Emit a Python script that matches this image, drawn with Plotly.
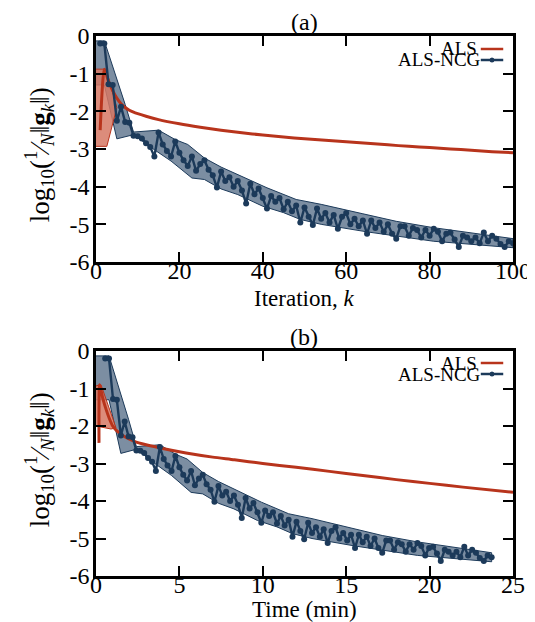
import plotly.graph_objects as go

# ---------------- data ----------------
# ALS (panel a: iteration)
als_k = [1, 2, 3, 4, 5, 6, 7, 8, 9, 10, 12, 15, 20, 25, 30, 35, 40, 45, 50, 55,
         60, 65, 70, 75, 80, 85, 90, 95, 100]
als_val = [-2.5, -0.88, -1.2, -1.45, -1.65, -1.8, -1.9, -1.97, -2.02, -2.06, -2.13,
           -2.22, -2.33, -2.42, -2.5, -2.57, -2.63, -2.68, -2.73, -2.77, -2.81, -2.85,
           -2.89, -2.93, -2.96, -3.0, -3.03, -3.07, -3.1]
als_band_k = [0, 2.4, 5, 2.6, 0]
als_band_val = [-0.88, -0.88, -1.9, -2.93, -2.93]

# ALS (panel b: time in minutes)
als_t = [0.18, 0.22, 0.4, 0.6, 0.8, 1.0, 1.3, 1.7, 2.3, 3.0, 4.0, 5.4, 7.0, 8.3, 10.0,
         12.0, 14.0, 16.0, 18.0, 20.0, 22.0, 25.0]
als_t_val = [-2.45, -0.9, -1.25, -1.55, -1.8, -2.0, -2.15, -2.28, -2.41, -2.5, -2.6,
             -2.72, -2.83, -2.9, -3.0, -3.1, -3.21, -3.32, -3.43, -3.53, -3.63, -3.77]
als_band_t = [0, 0.3, 1.2, 0.9, 0]
als_band_t_val = [-0.93, -0.9, -2.05, -2.08, -2.0]

# ALS-NCG
ncg_k = list(range(1, 101))
ncg_val = [-0.20, -0.20, -1.28, -1.30, -2.25, -1.88, -2.28, -2.30, -2.65, -2.66,
           -2.72, -2.85, -2.95, -3.20, -2.56, -2.88, -3.05, -3.20, -2.80, -3.10,
           -3.30, -3.45, -3.20, -3.58, -3.40, -3.30, -3.55, -3.70, -4.02, -3.60,
           -3.85, -3.75, -4.00, -3.85, -4.10, -4.45, -3.92, -4.20, -4.05, -4.30,
           -4.58, -4.25, -4.40, -4.30, -4.60, -4.40, -4.65, -4.50, -4.95, -4.55,
           -4.80, -5.02, -4.58, -4.85, -4.70, -4.95, -4.75, -5.12, -4.80, -4.70,
           -5.00, -4.85, -5.05, -4.90, -5.25, -4.90, -5.10, -4.95, -5.20, -5.00,
           -5.25, -5.38, -5.05, -5.05, -5.30, -5.10, -5.15, -5.35, -5.15, -5.30,
           -5.12, -5.20, -5.45, -5.25, -5.22, -5.40, -5.60, -5.30, -5.35, -5.45,
           -5.35, -5.50, -5.22, -5.45, -5.30, -5.38, -5.52, -5.60, -5.45, -5.50]
ncg_time = [0.55, 0.78, 1.02, 1.25, 1.49, 1.72, 1.95, 2.19, 2.42, 2.66,
            2.89, 3.12, 3.36, 3.59, 3.83, 4.06, 4.29, 4.53, 4.76, 5.00,
            5.23, 5.46, 5.70, 5.93, 6.17, 6.40, 6.63, 6.87, 7.10, 7.34,
            7.57, 7.80, 8.04, 8.27, 8.51, 8.74, 8.97, 9.21, 9.44, 9.68,
            9.91, 10.14, 10.38, 10.61, 10.85, 11.08, 11.31, 11.55, 11.78, 12.02,
            12.25, 12.48, 12.72, 12.95, 13.19, 13.42, 13.65, 13.89, 14.12, 14.36,
            14.59, 14.82, 15.06, 15.29, 15.53, 15.76, 15.99, 16.23, 16.46, 16.70,
            16.93, 17.16, 17.40, 17.63, 17.87, 18.10, 18.33, 18.57, 18.80, 19.04,
            19.27, 19.50, 19.74, 19.97, 20.21, 20.44, 20.67, 20.91, 21.14, 21.38,
            21.61, 21.84, 22.08, 22.31, 22.55, 22.78, 23.01, 23.25, 23.48, 23.72]
# envelope of ALS-NCG (iteration indices, 1-based)
band_up_k = [2, 7, 9, 15, 19, 22, 26, 30, 34, 41, 48, 54, 64, 72, 81, 90, 100]
band_up = [-0.13, -1.82, -2.55, -2.5, -2.75, -2.88, -3.24, -3.48, -3.68, -4.03,
           -4.34, -4.47, -4.72, -4.92, -5.09, -5.22, -5.38]
band_lo_k = [2, 5, 9, 14, 18, 23, 26, 30, 34, 40, 45, 49, 54, 65, 81, 100]
band_lo = [-1.3, -2.73, -2.62, -3.02, -3.32, -3.77, -3.81, -4.06, -4.21, -4.52,
           -4.69, -4.87, -5.0, -5.2, -5.45, -5.62]
band_start_up = -0.13
band_start_lo = -1.3

y_ticks = [0, -1, -2, -3, -4, -5, -6]
y_tick_labels = ["0", "-1", "-2", "-3", "-4", "-5", "-6"]
xa_ticks = [0, 20, 40, 60, 80, 100]
xb_ticks = [0, 5, 10, 15, 20, 25]

# ---------------- style ----------------
RED = "#b8341c"
RED_FILL = "rgba(214,120,100,0.85)"
BLUE = "#1c3a5a"
BLUE_FILL = "rgba(110,130,152,0.9)"
FONT = "Liberation Serif"
FS = 24

fig = go.Figure()


def add_panel(xa, ya, ncg_x, band_x_up, band_x_lo, als_x, als_y, als_bx, als_by):
    # ALS-NCG band
    bx = [0] + band_x_up + band_x_lo[::-1] + [0]
    by = [band_start_up] + band_up + band_lo[::-1] + [band_start_lo]
    fig.add_trace(go.Scatter(x=bx, y=by, fill="toself", fillcolor=BLUE_FILL,
                             mode="lines", line=dict(color=BLUE, width=1),
                             xaxis=xa, yaxis=ya, showlegend=False, hoverinfo="skip"))
    # ALS band
    fig.add_trace(go.Scatter(x=als_bx, y=als_by, fill="toself", fillcolor=RED_FILL,
                             mode="lines", line=dict(color=RED, width=1),
                             xaxis=xa, yaxis=ya, showlegend=False, hoverinfo="skip"))
    # ALS line
    fig.add_trace(go.Scatter(x=als_x, y=als_y, mode="lines",
                             line=dict(color=RED, width=3, shape="spline", smoothing=0.6),
                             xaxis=xa, yaxis=ya, showlegend=False))
    # ALS-NCG line
    fig.add_trace(go.Scatter(x=ncg_x, y=ncg_val, mode="lines+markers",
                             line=dict(color=BLUE, width=2.4),
                             marker=dict(color=BLUE, size=6),
                             xaxis=xa, yaxis=ya, showlegend=False))


add_panel("x", "y", ncg_k, band_up_k, band_lo_k, als_k, als_val, als_band_k, als_band_val)
add_panel("x2", "y2", ncg_time,
          [ncg_time[k - 1] for k in band_up_k], [ncg_time[k - 1] for k in band_lo_k],
          als_t, als_t_val, als_band_t, als_band_t_val)

axis_common = dict(showline=True, linecolor="black", linewidth=2.5, mirror="ticks",
                   ticks="inside", ticklen=10, tickwidth=2, tickcolor="black",
                   showgrid=False, zeroline=False,
                   tickfont=dict(family=FONT, size=FS, color="black"))
x_common = dict(ticklabelstandoff=-15, **axis_common)
y_common = dict(ticklabelstandoff=-1, **axis_common)

L, R, T, B = 88, 20, 28, 54
W, H = 535, 622
PW, PH = W - L - R, H - T - B


def pxx(p):
    return (p - L) / PW


def pxy(p):
    return (H - B - p) / PH


fig.update_layout(
    width=W, height=H, margin=dict(l=L, r=R, t=T, b=B),
    paper_bgcolor="white", plot_bgcolor="white",
    font=dict(family=FONT, size=FS, color="black"),
    xaxis=dict(domain=[0, 1], anchor="y", range=[0, 100], tickvals=xa_ticks, **x_common),
    yaxis=dict(domain=[pxy(254), 1], anchor="x", range=[-6, 0], tickvals=y_ticks,
               ticktext=y_tick_labels, **y_common),
    xaxis2=dict(domain=[0, 1], anchor="y2", range=[0, 25], tickvals=xb_ticks, **x_common),
    yaxis2=dict(domain=[0, pxy(343)], anchor="x2", range=[-6, 0], tickvals=y_ticks,
                ticktext=y_tick_labels, **y_common),
    showlegend=False,
)

ytitle = "log<sub>10</sub>(<sup>1</sup>⁄<sub><i>N</i></sub>‖<b>g</b><sub><i>k</i></sub>‖)"
ann = []


def add_text(text, x, y, xanchor="center", angle=0, size=FS):
    ann.append(dict(text=text, x=pxx(x), y=pxy(y), xref="paper", yref="paper",
                    xanchor=xanchor, yanchor="middle", showarrow=False, textangle=angle,
                    font=dict(family=FONT, size=size, color="black")))


add_text("(a)", 301, 14)
add_text("(b)", 301, 329)
add_text("Iteration, <i>k</i>", 301, 290, size=23)
add_text("Time (min)", 301, 601, size=23)
add_text(ytitle, 30, 147, angle=-90, size=27)
add_text(ytitle, 30, 452, angle=-90, size=27)

shapes = []
for dy in (0, 314):
    add_text("ALS", 480, 41 + dy, xanchor="right", size=19)
    add_text("ALS-NCG", 484, 52 + dy, xanchor="right", size=19)
    shapes.append(dict(type="line", xref="paper", yref="paper",
                       x0=pxx(482), x1=pxx(505), y0=pxy(41 + dy), y1=pxy(41 + dy),
                       line=dict(color=RED, width=2.5)))
    shapes.append(dict(type="line", xref="paper", yref="paper",
                       x0=pxx(482), x1=pxx(505), y0=pxy(52 + dy), y1=pxy(52 + dy),
                       line=dict(color=BLUE, width=2.5)))
    shapes.append(dict(type="circle", xref="paper", yref="paper",
                       x0=pxx(491), x1=pxx(496), y0=pxy(49.5 + dy), y1=pxy(54.5 + dy),
                       fillcolor=BLUE, line=dict(color=BLUE, width=0)))

fig.update_layout(annotations=ann, shapes=shapes)
fig.write_html("out.html")
